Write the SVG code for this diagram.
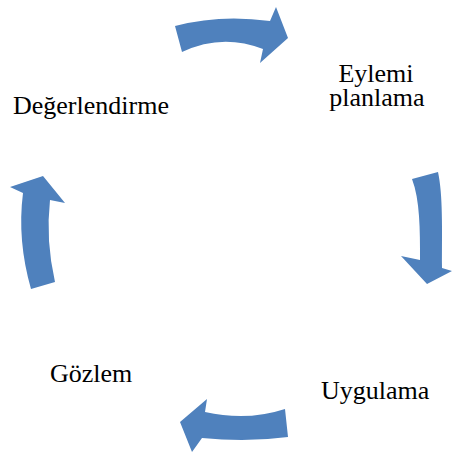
<svg xmlns="http://www.w3.org/2000/svg" width="452" height="455" viewBox="0 0 452 455">
<style>
.arr{fill:#4F81BD;stroke:none}
.lbl{font-family:"Liberation Serif","Times New Roman",serif;font-size:26px;fill:#000}
</style>
<rect width="452" height="455" fill="#fff"/>
<g id="connectors">
<path class="arr" d="M175,26 Q220,14 270,21 L276,7 L288,38 L260,63 L263,49 Q222,33 182,52 Z"/>
<path class="arr" d="M412,179 L438,172 C443,195 442,230 442,268 L452,271 L427,284 L401,256 L420,260 C420,230 420,200 412,179 Z"/>
<path class="arr" d="M285,409 Q247,421.5 205,412 L207,399 L180,422 L192,452 L202,438 Q247,442.5 288,437 Z"/>
<path class="arr" d="M43,176 L65,203 L50,200 Q45.5,240 55,282 L31,289 Q17,240 23,193 L10,187 Z"/>
</g>
<g id="node-eylemi">
<text class="lbl" text-anchor="middle"><tspan x="376" y="82">Eylemi</tspan><tspan x="377" y="106">planlama</tspan></text>
</g>
<g id="node-uygulama">
<text class="lbl" x="321" y="399">Uygulama</text>
</g>
<g id="node-gozlem">
<text class="lbl" x="50" y="382">Gözlem</text>
</g>
<g id="node-degerlendirme">
<text class="lbl" x="13" y="114">Değerlendirme</text>
</g>
</svg>
